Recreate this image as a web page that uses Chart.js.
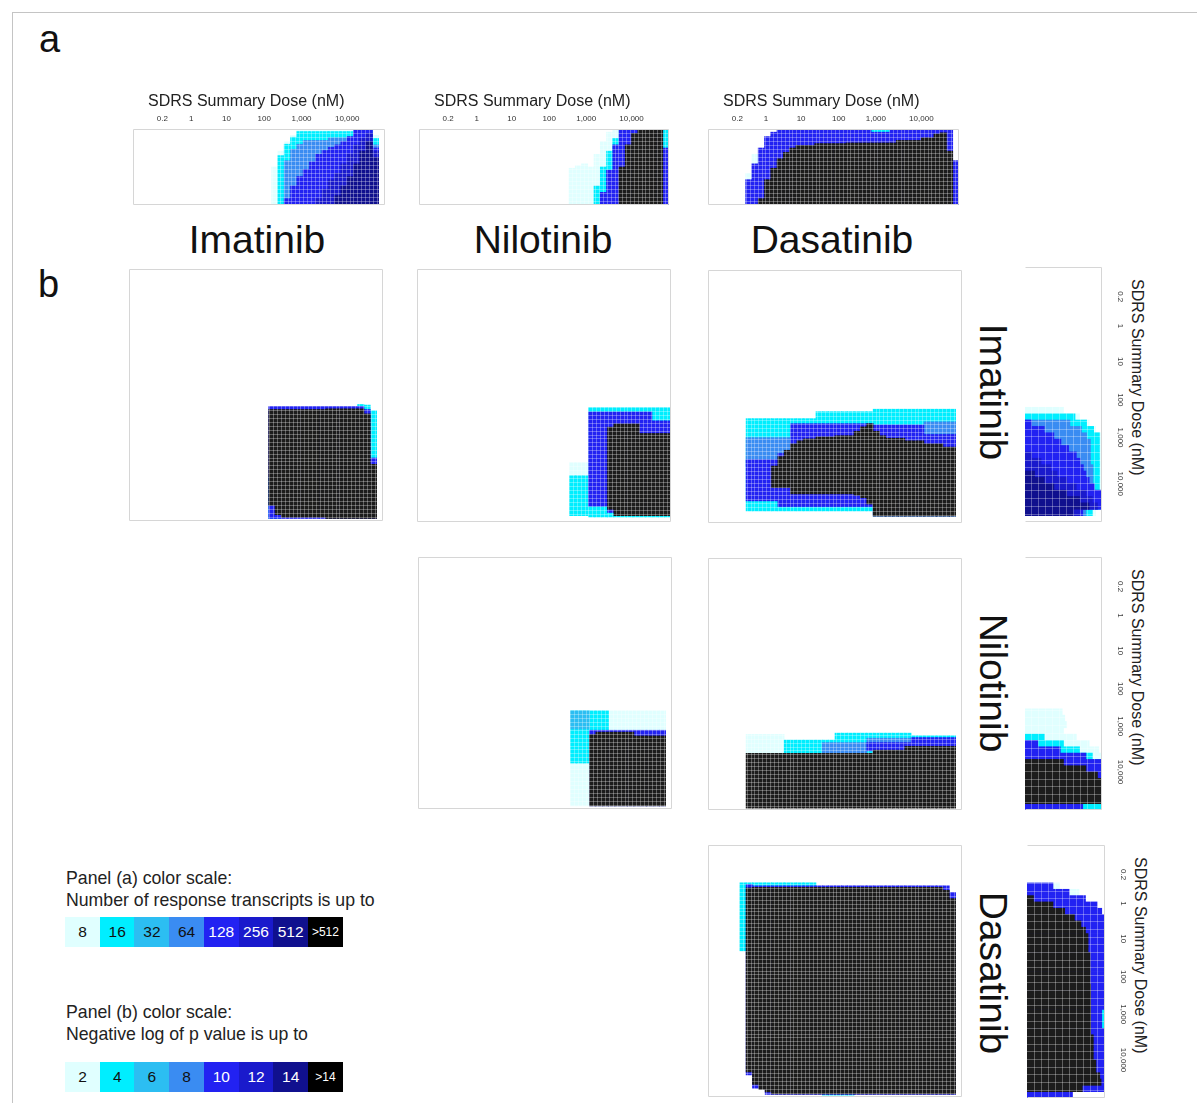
<!DOCTYPE html>
<html>
<head>
<meta charset="utf-8">
<title>SDRS summary dose heatmaps</title>
<script src="https://cdn.jsdelivr.net/npm/chart.js@4.4.1/dist/chart.umd.min.js"></script>
<style>
  html, body { margin: 0; padding: 0; background: #fff; }
  body { width: 1197px; height: 1103px; position: relative; overflow: hidden;
         font-family: "Liberation Sans", Arial, sans-serif; color: #111; }
  .abs { position: absolute; }
  .frame { left: 12px; top: 12px; width: 1200px; height: 1100px;
           border-top: 1px solid #c4c4c4; border-left: 1px solid #c4c4c4; }
  .letter { font-size: 38px; line-height: 38px; }
  .drug { width: 300px; text-align: center; font-size: 39px; line-height: 40px; }
  .rowdrug { width: 300px; height: 40px; text-align: center; font-size: 39px; line-height: 40px;
             transform-origin: 150px 20px; transform: rotate(90deg); }
  .doseTitle { font-size: 16px; line-height: 18px; white-space: nowrap; color: #222; }
  .legTxt { font-size: 17.7px; line-height: 20px; white-space: nowrap; color: #222; }
  .cell { width: 35px; height: 30px; line-height: 30px; text-align: center; font-size: 15.5px; }
</style>
</head>
<body>
<div class="abs frame"></div>
<div class="abs letter" style="left:39px;top:20px">a</div>
<div class="abs letter" style="left:38px;top:265px">b</div>

<script>
// colour steps, lightest to darkest (shared by both colour scales)
const levelColors = ['#e0ffff', '#00eeff', '#2cbef2', '#3a8cf2', '#2222f2', '#1a1acc', '#10108e', '#000000'];
const heatColors  = ['#e0ffff', '#00eeff', '#2cbef2', '#3a8cf2', '#2222f2', '#1a1acc', '#10108e', '#1c1c1c'];
const levelsA = ['8', '16', '32', '64', '128', '256', '512', '>512'];
const levelsB = ['2', '4', '6', '8', '10', '12', '14', '>14'];
const drugs = ['Imatinib', 'Nilotinib', 'Dasatinib'];
const doseTicks = ['0.2', '1', '10', '100', '1,000', '10,000'];
const doseTickCol = [1.6, 7.1, 13.8, 21.0, 28.1, 36.8];
const NCOL = 40;

// every map is a run list: [firstColumn, lastColumn, low, high]
// panel a (rows 0 = bottom .. 12 = top)
const aIma8   = [[22,22,0,6],[23,23,0,8.5],[24,24,0,10],[25,25,0,11],[26,37,0,11.9],[38,38,0,11]];
const aIma16  = [[23,23,0,7.8],[24,24,0,9.6],[25,25,0,10.7],[26,37,0,11.6],[38,38,0,10.5]];
const aIma64  = [[24,24,0,7],[25,25,0,8.8],[26,26,0,9.6],[27,30,0,10.2],[31,34,0,10.6],[35,35,0,11],[36,37,0,11.8],[38,38,0,9.5]];
const aIma128 = [[24,24,0,1],[25,25,0,3],[26,26,0,4.5],[27,27,0,5.6],[28,28,0,6.8],[29,29,0,8],[30,30,0,8.6],[31,31,0,9.1],[32,32,0,9.5],[33,33,0,10],[34,34,0,10.8],[35,37,0,11.8],[38,38,0,9]];
const aIma256 = [[29,29,0,1],[30,30,0,2.5],[31,31,0,4],[32,32,0,5],[33,33,0,6.5],[34,34,0,8],[35,35,0,9.5],[36,36,0,10.5],[37,37,0,11.3],[38,38,0,8.5]];
const aIma512 = [[32,32,0,1.5],[33,33,0,3],[34,34,0,4.5],[35,35,0,6.5],[36,36,0,8.5],[37,37,0,10],[38,38,0,7.5]];

const aNil8   = [[24,24,0,5.8],[25,25,0,6.2],[26,26,0,6.5],[27,27,0,6],[28,28,0,8],[29,29,0,10],[30,30,0,11.5],[31,39,0,11.8]];
const aNil16  = [[28,28,0,3],[29,29,0,6],[30,30,0,8.5],[31,31,0,10.5],[32,39,0,11.8]];
const aNil128 = [[29,29,0,2],[30,30,0,5.5],[31,31,0,9.5],[32,38,0,11.8],[39,39,0,9]];
const aNilTop = [[32,32,0,6],[33,33,0,9.5],[34,34,0,11.3],[35,38,0,11.8]];

const aDas8   = [[6,6,0,5],[7,7,0,8]];
const aDas16  = [[26,28,0,12]];
const aDas128 = [[6,6,0,4],[7,7,0,6.5],[8,8,0,9],[9,9,0,10.8],[10,10,0,11.5],[11,12,0,11.8],[13,25,0,12],[26,28,0,11.5],[29,38,0,12],[39,39,0,7]];
const aDasTop = [[8,8,0,1],[9,9,0,4],[10,10,0,5.8],[11,11,0,7.3],[12,12,0,8.3],[13,13,0,9],[14,16,0,9.4],[17,21,0,9.7],[22,29,0,9.8],[30,33,0,10.2],[34,35,0,10.6],[36,36,0,11.2],[37,37,0,11.4],[38,38,0,8.5]];

// panel b (rows 0 = top .. 40 = bottom)
const b11_4  = [[22,22,33,39.6],[23,23,36,39.6],[36,36,21.5,24],[37,37,21.6,30],[38,38,22.5,32]];
const b11_10 = [[22,36,21.8,39.6],[37,37,22.3,39.6],[38,38,30,39.6]];
const b11_k  = [[22,22,22.3,37.5],[23,23,22.3,39],[24,30,22.3,39.4],[31,36,22.2,39.6],[37,37,23,39.6],[38,38,31,39.6]];

const b12_2  = [[24,26,30.6,39]];
const b12_4  = [[24,26,32.7,39],[27,39,21.9,39.2]];
const b12_10 = [[27,29,22.6,37.5],[30,36,22.6,38.5],[37,39,24,38.5]];
const b12_k  = [[30,30,25,38],[31,34,24.5,39],[35,39,26,39]];

const b13_4  = [[6,16,23.5,38.1],[17,25,22.4,38.1],[26,38,22,38.9]];
const b13_8  = [[6,12,26.5,31],[34,38,24,27]];
const b13_10 = [[6,10,30,36.5],[11,12,29,37.4],[13,25,24.3,37.4],[26,33,24.5,38.9],[34,38,26,38.9]];
const b13_k  = [[10,10,31,34.4],[11,11,29.5,34.4],[12,12,28.5,34.4],[13,13,27.5,35.4],[14,14,27,35.4],[15,16,26.7,35.4],[17,19,26.4,35.4],[20,22,26.2,35.4],[23,23,25.5,35.6],[24,24,24.8,36],[25,25,24.3,37],[26,26,25.5,38.9],[27,27,26.2,38.9],[28,30,26.6,38.9],[31,33,27,38.9],[34,36,27.5,38.9],[37,38,28,38.9]];

const b22_2  = [[24,38,24.4,39.5]];
const b22_4  = [[24,26,24.4,32.7],[27,29,24.4,27.5]];
const b22_6  = [[24,26,24.4,27.3]];
const b22_10 = [[27,38,27.5,39.5]];
const b22_k  = [[27,27,28.2,39.5],[28,33,27.8,39.5],[34,38,28.4,39.5]];

const b23_2  = [[6,11,28,31.2],[12,19,29,31]];
const b23_4  = [[12,19,28.9,31.2],[20,31,27.8,31.2],[32,38,28.2,31]];
const b23_8  = [[18,24,29.3,31.1],[25,31,28.6,30.5]];
const b23_10 = [[25,31,29.3,30.6],[32,38,28.5,30.2]];
const b23_k  = [[6,25,31,39.7],[26,30,30.5,39.7],[31,38,29.9,39.7]];

const b33_4  = [[5,5,6,16.8],[6,16,6,7],[18,22,38.5,39.7],[38,38,8,26]];
const b33_10 = [[6,6,6.3,36.5],[7,8,6.5,38.6],[9,37,6.5,39.6],[38,38,7.5,39.6]];
const b33_k  = [[6,6,6.8,36],[7,7,6.7,38],[8,8,6.7,38.8],[9,9,6.7,39.2],[10,36,6.7,39.5],[37,37,7.2,39.5],[38,38,8.5,39.5]];

const cols = Array.from({ length: NCOL }, (_, i) => String(i));

function spans(runs) {
  const out = new Array(NCOL).fill(null);
  runs.forEach(([c0, c1, lo, hi]) => { for (let c = c0; c <= c1; c++) out[c] = [lo, hi]; });
  return out;
}

Chart.defaults.font.family = '"Liberation Sans", Arial, sans-serif';

const framePlugin = {
  id: 'frame',
  afterDraw(chart, args, opts) {
    const { ctx, chartArea: a } = chart;
    const l = a.left + 0.5, r = a.right - 0.5, t = a.top + 0.5, b = a.bottom - 0.5;
    ctx.save();
    ctx.strokeStyle = '#d6d6d6';
    ctx.lineWidth = 1;
    ctx.beginPath();
    ctx.moveTo(l, b); ctx.lineTo(l, t); ctx.lineTo(r, t); ctx.lineTo(r, b);
    if (!opts.openBottom) ctx.lineTo(l, b);
    ctx.stroke();
    ctx.restore();
  }
};

// fine white cell lines drawn over the coloured cells
function gridAxis(axis, position, n) {
  return {
    type: 'linear', axis, position, min: 0, max: n,
    ticks: { display: false },
    grid: { color: 'rgba(255,255,255,0.3)', lineWidth: 1, drawTicks: false, z: 1 },
    border: { display: false },
    afterBuildTicks: s => { const t = []; for (let i = 1; i < n; i++) t.push({ value: i }); s.ticks = t; },
    afterFit: s => { if (axis === 'x') s.height = 0; else s.width = 0; }
  };
}

// cfg: x, y, w, h of the drawn box on the page, rows, reverse, layers, axis, rotate
function heatmap(cfg) {
  const aw = cfg.rotate ? cfg.h : cfg.w;
  const ah = cfg.rotate ? cfg.w : cfg.h;
  const AX = cfg.axis ? 24 : 0;
  const host = document.createElement('div');
  host.className = 'abs';
  if (cfg.rotate) {
    host.style.cssText = `left:0;top:0;transform-origin:0 0;transform:translate(${cfg.x + cfg.w}px,${cfg.y}px) rotate(90deg)`;
  } else {
    host.style.cssText = `left:${cfg.x}px;top:${cfg.y}px`;
  }
  document.body.appendChild(host);

  const canvas = document.createElement('canvas');
  canvas.width = aw + 4;
  canvas.height = ah + AX + 4;
  canvas.style.cssText = `position:absolute;width:${aw + 4}px;height:${ah + AX + 4}px`;
  host.appendChild(canvas);

  const scales = {
    x: { type: 'category', display: false, offset: true },
    y: { type: 'linear', display: false, min: 0, max: cfg.rows, reverse: !!cfg.reverse },
    gx: gridAxis('x', 'bottom', cfg.grid[0]),
    gy: gridAxis('y', 'left', cfg.grid[1])
  };
  if (cfg.axis) {
    scales.dose = {
      type: 'linear', axis: 'x', position: 'top', min: 0, max: NCOL,
      grid: { display: false, drawTicks: false },
      border: { display: false },
      ticks: { autoSkip: false, maxRotation: 0, minRotation: 0, padding: cfg.tickPad,
               font: { size: 8 }, color: '#333', callback: (v, i) => doseTicks[i] },
      afterBuildTicks: s => { s.ticks = doseTickCol.map(v => ({ value: v })); },
      afterFit: s => { s.height = AX; }
    };
  }

  const chart = new Chart(canvas, {
    type: 'bar',
    data: {
      labels: cols,
      datasets: cfg.layers.map(([lvl, runs]) => ({
        data: spans(runs),
        backgroundColor: heatColors[lvl],
        borderWidth: 0,
        grouped: false,
        barPercentage: 1,
        categoryPercentage: 1,
        order: 10 - lvl,          // darker steps drawn on top
        xAxisID: 'x',
        yAxisID: 'y'
      }))
    },
    options: {
      responsive: false,
      animation: false,
      devicePixelRatio: 1,
      events: [],
      layout: { padding: 2 },
      scales,
      plugins: { legend: { display: false }, tooltip: { enabled: false }, frame: { openBottom: !!cfg.openBottom } }
    },
    plugins: [framePlugin]
  });

  const a = chart.chartArea;
  canvas.style.left = -a.left + 'px';
  canvas.style.top = -a.top + 'px';

  if (cfg.title) {
    const t = document.createElement('div');
    t.className = 'abs doseTitle';
    t.style.left = cfg.title[0] + 'px';
    t.style.top = cfg.title[1] + 'px';
    t.textContent = 'SDRS Summary Dose (nM)';
    host.appendChild(t);
  }
  return chart;
}

// panel a and the side strips show the same single-drug maps
const singleMaps = [
  [[0, aIma8], [1, aIma16], [3, aIma64], [4, aIma128], [5, aIma256], [6, aIma512]],
  [[0, aNil8], [1, aNil16], [4, aNil128], [7, aNilTop]],
  [[0, aDas8], [1, aDas16], [4, aDas128], [7, aDasTop]]
];
const panelABoxes = [[133, 129, 252, 76], [419, 129, 250, 76], [708, 129, 251, 76]];
const stripBoxes  = [[1025, 267, 77, 255], [1025, 557, 77, 253], [1027, 845, 78, 253]];

singleMaps.forEach((layers, i) => {
  const [x, y, w, h] = panelABoxes[i];
  heatmap({ x, y, w, h, rows: 12, layers, axis: true, tickPad: 5, grid: [64, 19], title: [15, -37] });
  const [sx, sy, sw, sh] = stripBoxes[i];
  heatmap({ x: sx, y: sy, w: sw, h: sh, rows: 12, layers, axis: true, tickPad: 13, grid: [32, 11],
            title: [12, -44], rotate: true, openBottom: true });
});

const pairMaps = [
  { box: [129, 269, 254, 252], layers: [[1, b11_4], [4, b11_10], [7, b11_k]] },
  { box: [417, 269, 254, 253], layers: [[0, b12_2], [1, b12_4], [4, b12_10], [7, b12_k]] },
  { box: [708, 270, 254, 253], layers: [[1, b13_4], [3, b13_8], [4, b13_10], [7, b13_k]] },
  { box: [418, 557, 254, 252], layers: [[0, b22_2], [1, b22_4], [2, b22_6], [4, b22_10], [7, b22_k]] },
  { box: [708, 558, 254, 252], layers: [[0, b23_2], [1, b23_4], [3, b23_8], [4, b23_10], [7, b23_k]] },
  { box: [708, 845, 254, 252], layers: [[1, b33_4], [4, b33_10], [7, b33_k]] }
];
pairMaps.forEach(p => {
  const [x, y, w, h] = p.box;
  heatmap({ x, y, w, h, rows: 40, reverse: true, layers: p.layers, grid: [64, 64] });
});

// drug names
const colCenters = [257, 543, 832];
const rowCenters = [392, 683, 973];
drugs.forEach((d, i) => {
  const c = document.createElement('div');
  c.className = 'abs drug';
  c.style.left = (colCenters[i] - 150) + 'px';
  c.style.top = '220px';
  c.textContent = d;
  document.body.appendChild(c);
  const r = document.createElement('div');
  r.className = 'abs rowdrug';
  r.style.left = (993 - 150) + 'px';
  r.style.top = (rowCenters[i] - 20) + 'px';
  r.textContent = d;
  document.body.appendChild(r);
});

// colour scale keys
function colourKey(top, line1, line2, labels, cellTop) {
  [line1, line2].forEach((txt, k) => {
    const t = document.createElement('div');
    t.className = 'abs legTxt';
    t.style.left = '66px';
    t.style.top = (top + k * 22) + 'px';
    t.textContent = txt;
    document.body.appendChild(t);
  });
  labels.forEach((lab, i) => {
    const c = document.createElement('div');
    c.className = 'abs cell';
    c.style.left = (65 + i * 34.7) + 'px';
    c.style.top = cellTop + 'px';
    c.style.background = levelColors[i];
    c.style.color = i < 4 ? '#111' : '#fff';
    if (lab.startsWith('>')) c.style.fontSize = '12px';
    c.textContent = lab;
    document.body.appendChild(c);
  });
}
colourKey(868, 'Panel (a) color scale:', 'Number of response transcripts is up to', levelsA, 917);
colourKey(1002, 'Panel (b) color scale:', 'Negative log of p value is up to', levelsB, 1062);
</script>
</body>
</html>
